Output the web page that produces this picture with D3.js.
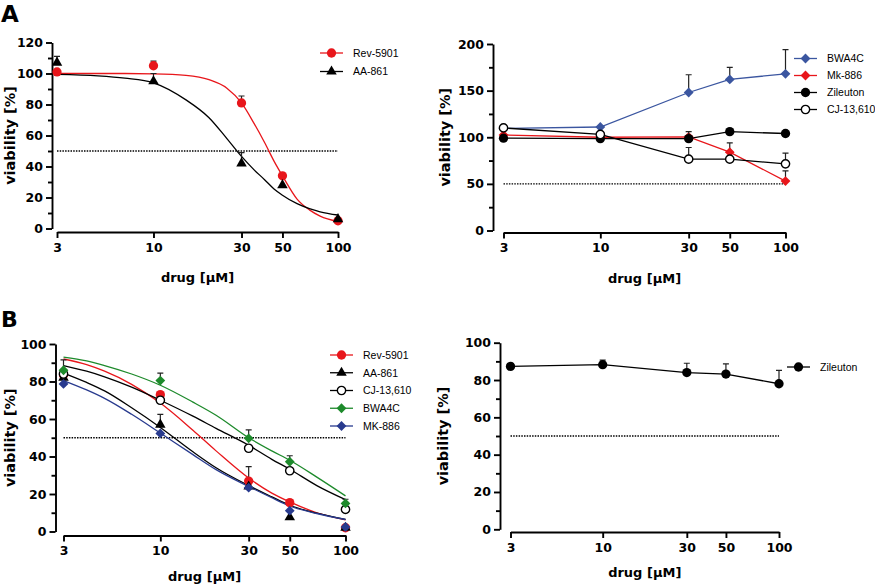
<!DOCTYPE html>
<html>
<head>
<meta charset="utf-8">
<script src="https://cdn.jsdelivr.net/npm/d3@7"></script>
<style>
  body { margin: 0; background: #fff; }
  svg text { font-family: 'DejaVu Sans', sans-serif; fill: #000; }
  .axis path, .axis line { stroke: #000; stroke-width: 1.9; }
  .axis text { font-size: 12.5px; font-weight: bold; }
  .legend text { font-family: 'Liberation Sans', Arial, sans-serif; font-size: 10.5px; }
</style>
</head>
<body>
<div id="chart"></div>
<script>
const width = 875;
const height = 585;

// doses (µM) and axis ticks
const doses = [3, 10, 30, 50, 100];
const xTicks = [3, 10, 30, 50, 100];

// panel A, left: fitted curves
const aRevMean = [101, 105, 81, 34, 5];
const aRevErr = [0, 3, 4.5, 0, 0];
const aAAMean = [107, 95, 42, 28, 6];
const aAAErr = [4, 5, 7, 0, 0];
const aFitDoses = [3, 5, 7, 10, 15, 20, 25, 30, 35, 40, 45, 50, 60, 70, 80, 100];
const aRevFit = [100, 100, 100, 99.8, 98.8, 96, 90.5, 81, 68, 55.5, 43.5, 34, 19, 12, 8, 4.5];
const aAAFit = [99.5, 98.5, 97, 94, 83, 71.5, 58, 46.5, 38, 31.5, 25.5, 21.5, 16, 12.8, 10.8, 8.7];

// panel A, right: connected points
const aBwaMean = [109.5, 111, 148, 162, 168];
const aBwaErr = [0, 0, 19, 13, 26];
const aMkMean = [102.5, 100, 100.5, 84, 53];
const aMkErr = [0, 0, 0, 10, 11];
const aZilMean = [99, 98.5, 98.5, 106, 104];
const aZilErr = [0, 0, 7.5, 0, 0];
const aCjMean = [110, 103, 76.5, 76.5, 71.5];
const aCjErr = [0, 0, 12.5, 0, 11.5];

// panel B, left: fitted curves
const bRevMean = [83.5, 73, 26.9, 15.4, 2];
const bRevErr = [0, 0, 7.7, 1.5, 0];
const bAAMean = [82, 57, 24, 7.6, 2];
const bAAErr = [9.5, 5.5, 0, 0, 0];
const bCjMean = [84, 70, 44.4, 32.4, 11.8];
const bCjErr = [0, 0, 0, 0, 0];
const bBwaMean = [86, 80.5, 49.7, 37.2, 15];
const bBwaErr = [0, 4, 4.5, 3.2, 2.2];
const bMkMean = [78.7, 52.3, 23.4, 11.1, 2.4];
const bMkErr = [0, 0, 0, 0, 0];
const bFitDoses = [3, 4, 5, 7, 10, 15, 20, 30, 40, 50, 70, 100];
const bRevFit = [92, 89, 85.5, 78.5, 68.5, 54, 43, 28.5, 20.5, 15.8, 10, 6.2];
const bAAFit = [84.5, 79.5, 75, 66, 55.5, 42.5, 34, 24.5, 18.5, 14, 9.8, 6.5];
const bCjFit = [88.5, 85.5, 82.5, 77, 70, 61.5, 55, 46, 38.5, 33.2, 24.5, 17];
const bBwaFit = [93, 91, 88.5, 84, 78, 69, 62, 50, 43, 38, 29, 19];
const bMkFit = [80.5, 75.5, 71, 62.5, 52.5, 41, 33, 24, 18, 13.6, 9.6, 6.4];

// panel B, right
const bZilMean = [87.3, 88.2, 84, 83.2, 78];
const bZilErr = [0, 2.5, 5, 5.4, 7.2];

const red = '#e8161b';
const slate = '#3b56a0';
const green = '#1d8a2b';
const navy = '#283a8e';

const svg = d3.select('#chart')
  .append('svg')
  .attr('width', width)
  .attr('height', height);

function symbolFor(shape) {
  if (shape === 'triangle') return d3.symbol(d3.symbolTriangle, 48)();
  if (shape === 'diamond') return d3.symbol(d3.symbolSquare, 48)();
  return d3.symbol(d3.symbolCircle, shape === 'open' ? 54 : 68)();
}

function drawMarker(g, shape, color, cx, cy) {
  const p = g.append('path')
    .attr('d', symbolFor(shape))
    .attr('transform', 'translate(' + cx + ',' + cy + ')' + (shape === 'diamond' ? ' rotate(45)' : ''));
  if (shape === 'open') {
    p.attr('fill', '#fff').attr('stroke', '#000').attr('stroke-width', 1.4);
  } else {
    p.attr('fill', color);
  }
}

function drawPanel(cfg) {
  const g = svg.append('g');

  const x = d3.scaleLog().domain([3, 100]).range([cfg.x0, cfg.x1]);
  const y = d3.scaleLinear().domain([0, cfg.yMax]).range([cfg.yBot, cfg.yTop]);

  // minor y ticks
  g.append('g')
    .attr('class', 'axis')
    .attr('transform', 'translate(' + cfg.yAxisX + ',0)')
    .call(d3.axisLeft(y).tickValues(cfg.minor).tickSize(4).tickFormat(''))
    .select('.domain').remove();

  g.append('g')
    .attr('class', 'axis')
    .attr('transform', 'translate(' + cfg.yAxisX + ',0)')
    .call(d3.axisLeft(y).tickValues(cfg.major).tickSize(6).tickSizeOuter(0).tickPadding(3).tickFormat(d3.format('d')));

  g.append('g')
    .attr('class', 'axis')
    .attr('transform', 'translate(0,' + cfg.xAxisY + ')')
    .call(d3.axisBottom(x).tickValues(xTicks).tickSize(6).tickSizeOuter(0).tickPadding(5).tickFormat(d3.format('d')));

  g.append('text')
    .attr('x', (cfg.x0 + cfg.x1) / 2)
    .attr('y', cfg.xTitleY)
    .attr('text-anchor', 'middle')
    .style('font-size', '13px')
    .style('font-weight', 'bold')
    .text('drug [µM]');

  g.append('text')
    .attr('transform', 'translate(' + cfg.yTitleX + ',' + (cfg.yTop + cfg.yBot) / 2 + ') rotate(-90)')
    .attr('text-anchor', 'middle')
    .style('font-size', '14.5px')
    .style('font-weight', 'bold')
    .text('viability [%]');

  // 50% reference line
  g.append('line')
    .attr('x1', x(3)).attr('x2', x(100))
    .attr('y1', y(50)).attr('y2', y(50))
    .attr('stroke', '#000')
    .attr('stroke-width', 1.4)
    .attr('stroke-dasharray', '1.5,1.2');

  // fits or connecting lines
  cfg.series.forEach(function(s) {
    let pts;
    let curve;
    if (s.fit) {
      pts = s.fit.map((v, i) => [x(cfg.fitDoses[i]), y(v)]);
      curve = d3.curveMonotoneX;
    } else {
      pts = s.mean.map((v, i) => [x(doses[i]), y(v)]);
      curve = d3.curveLinear;
    }
    g.append('path')
      .attr('d', d3.line().curve(curve)(pts))
      .attr('fill', 'none')
      .attr('stroke', s.line)
      .attr('stroke-width', 1.3);
  });

  // error bars (upper only) and markers
  cfg.series.forEach(function(s) {
    s.mean.forEach(function(v, i) {
      if (s.err[i] > 0) {
        const cx = x(doses[i]);
        g.append('path')
          .attr('d', 'M' + cx + ',' + y(v) + 'V' + y(v + s.err[i]) + 'M' + (cx - 3) + ',' + y(v + s.err[i]) + 'H' + (cx + 3))
          .attr('fill', 'none')
          .attr('stroke', '#222')
          .attr('stroke-width', 1.2);
      }
    });
    s.mean.forEach(function(v, i) {
      drawMarker(g, s.shape, s.color, x(doses[i]), y(v));
    });
  });

  // legend
  const lg = g.append('g').attr('class', 'legend');
  cfg.series.forEach(function(s, i) {
    const ly = cfg.legend.y + i * cfg.legend.dy;
    lg.append('line')
      .attr('x1', cfg.legend.x).attr('x2', cfg.legend.x + 23)
      .attr('y1', ly).attr('y2', ly)
      .attr('stroke', s.line)
      .attr('stroke-width', 1.3);
    drawMarker(lg, s.shape, s.color, cfg.legend.x + 11.5, ly);
    lg.append('text')
      .attr('x', cfg.legend.x + 33)
      .attr('y', ly)
      .attr('dy', '0.36em')
      .text(s.name);
  });
}

drawPanel({
  x0: 57, x1: 338, yTop: 42.5, yBot: 228.5, yMax: 120,
  yAxisX: 52, xAxisY: 232, xTitleY: 282, yTitleX: 15,
  major: [0, 20, 40, 60, 80, 100, 120],
  minor: [10, 30, 50, 70, 90, 110],
  fitDoses: aFitDoses,
  legend: { x: 320, y: 53, dy: 18.5 },
  series: [
    { name: 'Rev-5901', mean: aRevMean, err: aRevErr, fit: aRevFit, color: red, line: red, shape: 'circle' },
    { name: 'AA-861', mean: aAAMean, err: aAAErr, fit: aAAFit, color: '#000', line: '#000', shape: 'triangle' }
  ]
});

drawPanel({
  x0: 503.5, x1: 785.5, yTop: 44, yBot: 230.5, yMax: 200,
  yAxisX: 493, xAxisY: 232.5, xTitleY: 283, yTitleX: 450,
  major: [0, 50, 100, 150, 200],
  minor: [25, 75, 125, 175],
  legend: { x: 794, y: 58.5, dy: 17 },
  series: [
    { name: 'BWA4C', mean: aBwaMean, err: aBwaErr, color: slate, line: slate, shape: 'diamond' },
    { name: 'Mk-886', mean: aMkMean, err: aMkErr, color: red, line: red, shape: 'diamond' },
    { name: 'Zileuton', mean: aZilMean, err: aZilErr, color: '#000', line: '#000', shape: 'circle' },
    { name: 'CJ-13,610', mean: aCjMean, err: aCjErr, color: '#000', line: '#000', shape: 'open' }
  ]
});

drawPanel({
  x0: 63.5, x1: 345.5, yTop: 344, yBot: 531.5, yMax: 100,
  yAxisX: 55.5, xAxisY: 535.5, xTitleY: 581, yTitleX: 15,
  major: [0, 20, 40, 60, 80, 100],
  minor: [10, 30, 50, 70, 90],
  fitDoses: bFitDoses,
  legend: { x: 330, y: 355, dy: 17.75 },
  series: [
    { name: 'Rev-5901', mean: bRevMean, err: bRevErr, fit: bRevFit, color: red, line: red, shape: 'circle' },
    { name: 'AA-861', mean: bAAMean, err: bAAErr, fit: bAAFit, color: '#000', line: '#000', shape: 'triangle' },
    { name: 'CJ-13,610', mean: bCjMean, err: bCjErr, fit: bCjFit, color: '#000', line: '#000', shape: 'open' },
    { name: 'BWA4C', mean: bBwaMean, err: bBwaErr, fit: bBwaFit, color: green, line: green, shape: 'diamond' },
    { name: 'MK-886', mean: bMkMean, err: bMkErr, fit: bMkFit, color: navy, line: navy, shape: 'diamond' }
  ]
});

drawPanel({
  x0: 510.5, x1: 779, yTop: 342.7, yBot: 529.3, yMax: 100,
  yAxisX: 500, xAxisY: 532, xTitleY: 577, yTitleX: 448,
  major: [0, 20, 40, 60, 80, 100],
  minor: [10, 30, 50, 70, 90],
  legend: { x: 787, y: 367, dy: 17 },
  series: [
    { name: 'Zileuton', mean: bZilMean, err: bZilErr, color: '#000', line: '#000', shape: 'circle' }
  ]
});

// panel letters
svg.append('text').attr('x', 1).attr('y', 22)
  .style('font-size', '23px').style('font-weight', 'bold').text('A');
svg.append('text').attr('x', 1).attr('y', 327)
  .style('font-size', '22px').style('font-weight', 'bold').text('B');
</script>
</body>
</html>
